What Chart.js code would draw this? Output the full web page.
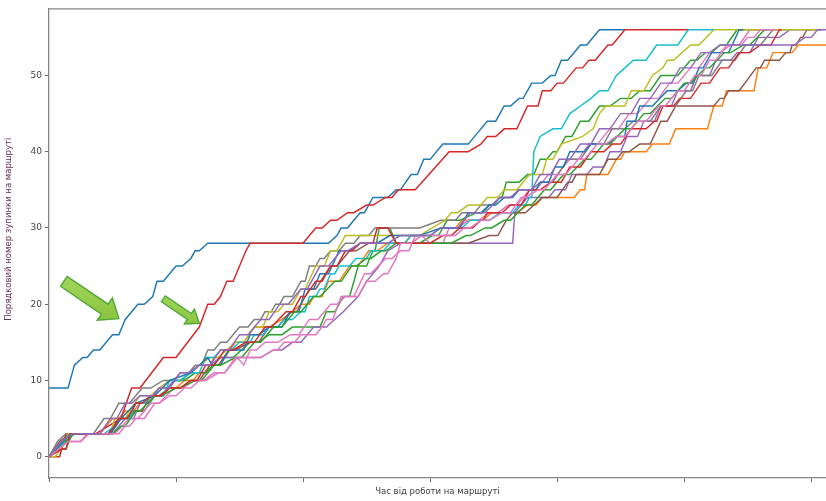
<!DOCTYPE html>
<html lang="uk">
<head>
<meta charset="utf-8">
<title>Рух рейсів по маршруту</title>
<script src="https://cdn.jsdelivr.net/npm/chart.js@4.4.1/dist/chart.umd.min.js"></script>
<style>
  html, body { margin: 0; padding: 0; background: #ffffff; }
  #wrap { width: 826px; height: 501px; }
</style>
</head>
<body>
<div id="wrap"><canvas id="c" width="826" height="501"></canvas></div>
<script>
// Each trip: [minutes since start of work on the route, stop sequence number]
const trip01 = [[0,9],[9,9],[12,12],[16,13],[18,13],[21,14],[24,14],[30,16],[33,16],[36,18],[42,20],[45,20],[49,21],[51,23],[54,23],[60,25],[63,25],[67,26],[69,27],[71,27],[75,28],[132,28],[136,29],[138,30],[141,30],[144,31],[147,32],[149,32],[153,34],[160,34],[164,35],[166,35],[171,37],[174,37],[177,39],[180,39],[186,41],[198,41],[204,43],[207,44],[211,44],[215,46],[218,46],[222,47],[224,47],[228,49],[233,49],[237,50],[239,50],[242,52],[245,52],[251,54],[254,54],[260,56],[272,56]];
const trip02 = [[0,0],[6,2],[9,3],[24,3],[30,5],[33,5],[36,6],[40,6],[43,7],[47,7],[50,8],[53,8],[56,9],[60,9],[64,10],[68,10],[71,11],[74,11],[78,13],[83,13],[88,15],[92,15],[97,17],[104,17],[110,18],[115,19],[119,20],[123,20],[125,21],[129,21],[132,23],[137,23],[142,25],[146,25],[151,27],[155,27],[160,28],[168,28],[171,29],[180,29],[185,30],[192,30],[195,31],[205,31],[209,32],[221,32],[226,33],[230,33],[233,34],[248,34],[251,35],[253,35],[254,37],[264,37],[268,39],[270,39],[272,40],[282,40],[285,41],[293,41],[296,43],[311,43],[314,46],[318,46],[320,48],[333,48],[335,51],[339,51],[342,53],[351,53],[354,54],[367,54]];
const trip03 = [[0,0],[5,1],[8,1],[11,3],[29,3],[34,5],[37,5],[41,6],[45,6],[50,8],[54,8],[59,10],[64,10],[69,11],[74,11],[81,13],[87,13],[95,15],[99,15],[104,16],[110,16],[115,17],[128,17],[131,19],[135,19],[139,21],[142,21],[145,24],[146,25],[150,25],[153,27],[154,27],[156,30],[161,30],[164,28],[175,28],[181,29],[184,29],[188,31],[194,31],[202,32],[205,32],[208,33],[210,33],[213,34],[214,34],[216,36],[222,36],[226,37],[229,37],[232,39],[235,39],[238,40],[240,40],[244,42],[247,42],[251,44],[255,44],[260,46],[265,46],[270,47],[275,47],[279,48],[284,48],[289,50],[297,50],[303,52],[306,52],[310,53],[313,53],[317,54],[320,54],[325,56],[336,56]];
const trip04 = [[0,0],[5,0],[8,3],[22,3],[28,4],[34,5],[39,9],[43,9],[54,13],[60,13],[71,17],[75,20],[78,20],[81,21],[84,23],[87,23],[93,27],[95,28],[120,28],[123,29],[126,30],[129,30],[133,31],[136,31],[141,32],[144,32],[150,33],[153,33],[159,34],[162,34],[165,35],[173,35],[189,40],[198,40],[204,41],[207,42],[211,42],[215,43],[221,43],[226,46],[231,46],[233,48],[237,48],[240,49],[243,49],[249,51],[252,51],[255,52],[258,52],[264,54],[266,54],[272,56],[302,56]];
const trip05 = [[0,0],[6,2],[11,3],[30,3],[36,5],[40,5],[43,7],[47,7],[52,9],[56,9],[62,11],[66,11],[71,12],[76,12],[81,13],[100,13],[106,14],[110,14],[115,15],[119,15],[125,17],[131,17],[139,19],[146,21],[150,23],[156,25],[160,27],[166,28],[219,28],[220,32],[226,34],[236,34],[239,35],[244,35],[247,37],[254,37],[257,38],[262,38],[265,40],[270,40],[273,42],[278,42],[281,44],[286,44],[289,46],[294,46],[297,48],[303,48],[306,50],[312,50],[315,52],[322,52],[325,53],[331,53],[335,55],[345,55],[350,56],[360,56]];
const trip06 = [[0,0],[5,2],[10,3],[28,3],[33,5],[36,5],[40,6],[44,6],[48,8],[52,8],[57,9],[62,9],[67,10],[71,10],[76,12],[80,12],[85,14],[88,14],[95,15],[99,15],[104,17],[108,17],[114,19],[117,19],[123,22],[126,22],[133,25],[136,25],[142,27],[145,27],[151,28],[198,28],[208,29],[212,29],[214,30],[216,31],[219,32],[225,32],[233,34],[240,34],[245,36],[247,36],[249,37],[260,37],[264,39],[268,39],[271,40],[274,40],[279,41],[284,41],[289,44],[292,44],[296,46],[314,46],[317,47],[319,47],[321,48],[326,48],[334,51],[336,51],[338,52],[345,52],[348,53],[350,53],[351,54],[353,54],[355,55],[356,55],[358,56],[365,56]];
const trip07 = [[0,0],[9,2],[15,2],[18,3],[31,3],[38,5],[42,5],[48,7],[52,7],[59,9],[63,9],[69,10],[73,10],[78,11],[83,11],[89,13],[92,12],[95,14],[98,14],[102,15],[108,15],[114,16],[118,16],[123,18],[127,18],[133,20],[136,20],[140,21],[144,21],[149,24],[152,24],[159,26],[162,26],[166,27],[170,27],[173,29],[176,29],[180,28],[186,28],[189,30],[193,30],[198,31],[203,31],[208,32],[212,32],[217,33],[221,33],[227,35],[230,35],[236,37],[240,37],[246,39],[250,39],[255,41],[259,41],[265,43],[269,43],[274,45],[278,45],[284,47],[288,47],[293,49],[297,49],[303,51],[307,51],[312,53],[317,53],[322,54],[326,54],[331,56],[345,56]];
const trip08 = [[0,0],[4,2],[8,3],[21,3],[26,5],[29,5],[33,7],[38,7],[44,9],[48,9],[54,10],[63,10],[69,12],[72,12],[75,14],[78,14],[81,15],[84,15],[90,17],[94,17],[97,18],[100,18],[102,19],[105,19],[107,20],[109,20],[111,21],[115,21],[119,23],[121,23],[123,25],[126,25],[128,26],[130,26],[133,27],[137,27],[140,28],[144,28],[147,29],[151,29],[154,30],[175,30],[185,31],[192,31],[195,32],[201,32],[204,33],[209,33],[213,34],[218,34],[222,35],[228,35],[232,36],[238,36],[245,39],[251,39],[256,41],[262,41],[266,43],[272,43],[276,44],[284,44],[289,46],[296,46],[301,48],[304,48],[307,50],[313,50],[318,52],[324,52],[329,54],[336,54],[342,56],[350,56]];
const trip09 = [[0,0],[3,0],[8,2],[9,3],[29,3],[31,5],[36,5],[38,6],[43,8],[48,8],[52,9],[57,10],[62,10],[71,12],[76,13],[80,13],[88,15],[92,15],[97,17],[101,17],[104,19],[108,19],[111,20],[115,20],[119,22],[121,22],[126,25],[130,25],[133,27],[136,27],[140,29],[175,29],[181,30],[187,31],[190,32],[193,32],[198,33],[204,33],[207,34],[212,34],[215,35],[221,35],[227,37],[233,37],[235,39],[238,39],[240,40],[242,41],[252,42],[257,43],[260,45],[263,46],[272,46],[275,48],[281,48],[285,50],[290,51],[292,52],[295,52],[303,54],[307,54],[314,56],[363,56]];
const trip10 = [[0,0],[8,2],[11,3],[26,3],[31,4],[34,5],[38,5],[41,7],[45,7],[48,8],[54,8],[57,10],[62,10],[67,11],[71,11],[74,13],[78,13],[81,14],[86,14],[90,15],[95,15],[97,16],[101,16],[104,17],[108,17],[111,18],[115,18],[119,19],[121,19],[123,21],[126,21],[128,22],[130,22],[133,24],[135,24],[137,25],[142,25],[145,26],[150,26],[152,27],[158,27],[161,28],[168,28],[171,29],[180,29],[185,30],[195,30],[199,31],[208,31],[213,32],[219,32],[222,33],[225,33],[227,34],[228,34],[229,40],[232,42],[238,43],[242,43],[246,45],[251,46],[256,47],[260,48],[264,48],[268,50],[272,51],[276,52],[282,52],[287,54],[297,54],[302,56],[314,56]];
const trip11 = [[0,0],[7,2],[10,3],[29,3],[34,5],[41,7],[50,8],[57,10],[67,11],[75,13],[77,12],[81,12],[85,14],[92,14],[95,16],[99,16],[104,17],[110,17],[114,19],[118,19],[121,22],[125,22],[128,24],[132,24],[137,27],[142,27],[147,28],[155,28],[161,29],[175,29],[185,30],[194,30],[198,32],[204,32],[208,33],[211,33],[215,34],[219,34],[222,35],[230,35],[232,36],[236,36],[239,38],[243,38],[246,40],[253,40],[256,41],[264,41],[268,42],[272,42],[273,44],[277,44],[279,46],[285,46],[292,48],[297,48],[301,49],[304,49],[307,51],[309,51],[313,53],[321,53],[326,56],[328,56]];
const trip12 = [[0,0],[6,2],[8,2],[12,3],[30,3],[34,4],[36,4],[41,6],[43,6],[50,8],[53,8],[60,9],[62,9],[69,10],[72,10],[78,12],[81,12],[88,13],[91,13],[97,15],[100,15],[106,17],[110,17],[116,19],[119,19],[125,21],[128,21],[135,23],[138,23],[143,25],[145,25],[150,26],[152,26],[157,27],[159,27],[164,28],[190,28],[197,29],[199,29],[206,30],[209,30],[215,31],[218,31],[225,33],[228,33],[234,35],[237,35],[243,37],[246,37],[253,39],[256,39],[262,41],[265,41],[272,43],[275,43],[281,45],[284,45],[291,47],[294,47],[300,49],[303,49],[310,51],[312,51],[319,53],[322,53],[328,54],[331,54],[338,56],[340,56]];
const trip13 = [[0,0],[6,1],[8,1],[10,3],[28,3],[31,4],[33,5],[37,5],[41,7],[44,7],[48,8],[53,8],[57,9],[62,9],[67,10],[70,10],[74,12],[78,12],[83,14],[87,14],[93,15],[97,15],[102,17],[105,17],[112,19],[115,19],[119,21],[121,21],[126,23],[129,23],[133,25],[136,25],[140,27],[143,27],[147,28],[153,28],[155,30],[160,30],[164,28],[180,28],[186,29],[190,29],[194,30],[200,30],[204,31],[205,31],[207,32],[214,32],[218,33],[223,33],[227,35],[232,35],[237,36],[242,36],[246,38],[251,38],[256,40],[262,40],[266,41],[270,41],[275,43],[282,43],[286,44],[287,44],[290,46],[295,46],[298,47],[303,47],[308,49],[312,49],[317,51],[321,51],[326,53],[331,53],[336,54],[341,54],[345,56],[346,56]];
const trip14 = [[0,0],[9,2],[15,2],[19,3],[33,3],[36,4],[38,4],[41,5],[45,5],[50,7],[52,7],[57,8],[60,8],[64,9],[67,9],[71,10],[74,10],[80,11],[83,11],[88,13],[100,13],[106,14],[108,14],[111,15],[116,15],[119,16],[126,16],[129,17],[131,18],[134,18],[138,21],[146,21],[150,23],[154,23],[158,24],[160,24],[164,26],[166,28],[171,28],[176,29],[192,29],[196,30],[199,30],[204,31],[208,31],[214,32],[218,32],[223,34],[225,34],[231,35],[234,35],[240,37],[244,37],[250,39],[253,39],[259,41],[263,41],[268,42],[272,42],[278,44],[282,44],[288,46],[291,46],[297,48],[300,48],[305,50],[308,50],[312,52],[315,52],[320,54],[327,54],[330,55],[333,55],[336,56],[343,56]];
const trip15 = [[0,0],[6,2],[11,3],[24,3],[29,5],[32,5],[36,7],[39,7],[43,8],[49,8],[52,9],[57,9],[62,11],[66,11],[71,12],[76,12],[81,14],[85,14],[90,16],[94,16],[100,18],[104,18],[109,20],[113,20],[119,22],[122,22],[128,25],[132,25],[138,27],[141,27],[147,28],[160,28],[166,29],[180,29],[185,30],[193,30],[199,32],[206,32],[213,34],[218,34],[222,35],[228,35],[232,37],[237,37],[241,39],[246,39],[251,41],[256,41],[260,43],[265,43],[270,45],[275,45],[279,47],[284,47],[289,49],[294,49],[298,51],[303,51],[308,53],[312,53],[317,54],[352,54],[357,55],[360,55],[363,56],[367,56]];

const trips = [trip01, trip02, trip03, trip04, trip05, trip06, trip07, trip08,
               trip09, trip10, trip11, trip12, trip13, trip14, trip15];

// Axis ticks
const stopTicks = [0, 10, 20, 30, 40, 50];
const timeTicks = [0, 60, 120, 180, 240, 300, 360];

const xTitle = 'Час від роботи на маршруті';
const yTitle = 'Порядковий номер зупинки на маршруті';

// Callout arrows: tail and tip as [minute, stop]
const calloutTails = [[7, 23], [54, 20.7]];
const calloutTips  = [[33, 18.1], [71, 17.5]];

// ---- styling ----
const palette = ['#1f77b4', '#ff7f0e', '#2ca02c', '#d62728', '#9467bd',
                 '#8c564b', '#e377c2', '#7f7f7f', '#bcbd22', '#17becf',
                 '#1f77b4', '#2ca02c', '#d62728', '#e377c2', '#9467bd'];
const calloutShape = [
  { shaft: 12, head: 27, headLen: 17 },
  { shaft: 7,  head: 18, headLen: 12 }
];
const spineColor = '#858585';
const fontFamily = "'DejaVu Sans', 'Liberation Sans', sans-serif";

const datasets = trips.map((trip, i) => ({
  label: 'trip ' + (i + 1),
  data: trip.map(([t, s]) => ({ x: t, y: s })),
  borderColor: palette[i],
  borderWidth: 1.45,
  pointRadius: 0,
  tension: 0,
  fill: false,
  order: -i
}));

// Frame line along the top of the plotting area
const topFrame = {
  id: 'topFrame',
  afterDraw(chart) {
    const { ctx, chartArea: { left, right, top } } = chart;
    ctx.save();
    ctx.strokeStyle = spineColor;
    ctx.lineWidth = 1.3;
    ctx.beginPath();
    ctx.moveTo(left, top + 0.5);
    ctx.lineTo(right, top + 0.5);
    ctx.stroke();
    ctx.restore();
  }
};

// Vertical axis caption, set a little above the middle of the plot
const yCaption = {
  id: 'yCaption',
  afterDraw(chart) {
    const { ctx, chartArea: { top, bottom } } = chart;
    ctx.save();
    ctx.translate(9, (top + bottom) / 2 - 14);
    ctx.rotate(-Math.PI / 2);
    ctx.font = '8.5px ' + fontFamily;
    ctx.fillStyle = '#6a2f52';
    ctx.textAlign = 'center';
    ctx.textBaseline = 'middle';
    ctx.fillText(yTitle, 0, 0);
    ctx.restore();
  }
};

// Green block arrows pointing at the two fast trips
const callouts = {
  id: 'callouts',
  afterDatasetsDraw(chart) {
    const { ctx, scales: { x, y } } = chart;
    ctx.save();
    calloutTails.forEach((tail, i) => {
      const tip = calloutTips[i];
      const sh = calloutShape[i];
      const x0 = x.getPixelForValue(tail[0]), y0 = y.getPixelForValue(tail[1]);
      const x1 = x.getPixelForValue(tip[0]),  y1 = y.getPixelForValue(tip[1]);
      const len = Math.hypot(x1 - x0, y1 - y0);
      const ux = (x1 - x0) / len, uy = (y1 - y0) / len;
      const nx = -uy, ny = ux;
      const bx = x1 - ux * sh.headLen, by = y1 - uy * sh.headLen;
      const pts = [
        [x0 + nx * sh.shaft / 2, y0 + ny * sh.shaft / 2],
        [bx + nx * sh.shaft / 2, by + ny * sh.shaft / 2],
        [bx + nx * sh.head / 2,  by + ny * sh.head / 2],
        [x1, y1],
        [bx - nx * sh.head / 2,  by - ny * sh.head / 2],
        [bx - nx * sh.shaft / 2, by - ny * sh.shaft / 2],
        [x0 - nx * sh.shaft / 2, y0 - ny * sh.shaft / 2]
      ];
      const g = ctx.createLinearGradient(x0, y0 - 10, x0, y1 + 10);
      g.addColorStop(0, '#a6d65e');
      g.addColorStop(1, '#86c23a');
      ctx.beginPath();
      pts.forEach(([px, py], k) => k ? ctx.lineTo(px, py) : ctx.moveTo(px, py));
      ctx.closePath();
      ctx.fillStyle = g;
      ctx.fill();
      ctx.lineWidth = 1.4;
      ctx.lineJoin = 'miter';
      ctx.strokeStyle = '#4fa83a';
      ctx.stroke();
    });
    ctx.restore();
  }
};

new Chart(document.getElementById('c'), {
  type: 'line',
  data: { datasets },
  plugins: [topFrame, yCaption, callouts],
  options: {
    responsive: false,
    animation: false,
    devicePixelRatio: 1,
    layout: { padding: { top: 6, right: 0, bottom: 0, left: 0 } },
    plugins: { legend: { display: false }, tooltip: { enabled: false } },
    scales: {
      x: {
        type: 'linear',
        min: 0,
        max: 367,
        afterBuildTicks: s => { s.ticks = timeTicks.map(v => ({ value: v })); },
        afterFit: s => { s.height = 23; },
        ticks: { display: false },
        grid: { display: true, drawOnChartArea: false, drawTicks: true, tickLength: 4, color: '#666666', lineWidth: 1 },
        border: { display: true, color: spineColor, width: 1.3 },
        title: {
          display: true, text: xTitle, color: '#45373f',
          font: { family: fontFamily, size: 8.5 },
          padding: { top: 0, bottom: 4 }
        }
      },
      y: {
        type: 'linear',
        min: -2.8,
        max: 58.8,
        afterBuildTicks: s => { s.ticks = stopTicks.map(v => ({ value: v })); },
        afterFit: s => { s.width = 49; },
        ticks: { color: '#444444', font: { family: fontFamily, size: 9 }, padding: 3 },
        grid: { display: true, drawOnChartArea: false, drawTicks: true, tickLength: 4, color: '#666666', lineWidth: 1 },
        border: { display: true, color: spineColor, width: 1.3 },
        title: { display: false }
      }
    }
  }
});
</script>
</body>
</html>
